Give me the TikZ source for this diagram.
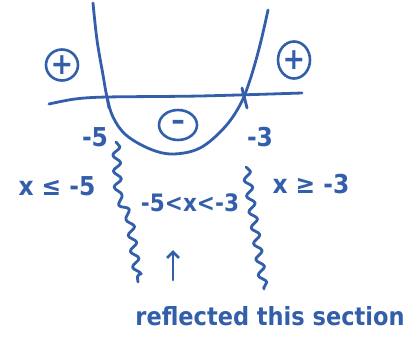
\documentclass[tikz,border=0pt]{standalone}
\usepackage{fontspec}
\setmainfont{DejaVu Sans Condensed}
\usetikzlibrary{shapes.geometric,decorations.pathmorphing,arrows.meta}
\definecolor{handblue}{RGB}{50,94,170}
\tikzset{
  ink/.style={draw=handblue,line width=2.8pt,line cap=round,line join=round},
  wavy/.style={ink,decorate,decoration={snake,segment length=16pt,amplitude=3.8pt}},
  sign/.style={ellipse,draw=handblue,line width=2.6pt,text=handblue,inner sep=0pt,font=\fontsize{30}{30}\selectfont\bfseries},
  lbl/.style={text=handblue,inner sep=0pt,font=\fontsize{26}{28}\selectfont\bfseries},
}
\begin{document}
\begin{tikzpicture}[x=1pt,y=-1pt]
\useasboundingbox (0,0) rectangle (419,337);
% axis
\draw[ink] plot[smooth] coordinates {(49,104) (75,99) (107,97) (200,96) (302,93)};
% parabola
\draw[ink] plot[smooth,tension=0.6] coordinates {(93,3) (97,40) (103,75) (107,97) (113,117) (126,135) (150,149) (173,154) (200,148) (224,128) (240,105) (250,80) (260,45) (268,10)};
\draw[ink] (107,97) -- (109,108);
\draw[ink] (242,88) -- (247,108);
% signs
\node[sign,minimum width=32pt,minimum height=31pt] (pl) at (62,65) {+};
\node[sign,minimum width=32pt,minimum height=37pt] (pr) at (294,60) {+};
\node[sign,minimum width=38pt,minimum height=30pt] (mi) at (178,125) {--};
% roots
\node[lbl] (m5) at (95,137) {-5};
\node[lbl] (m3) at (260,137) {-3};
% wavy separators
\draw[wavy] (116,142) -- (118,190) -- (128,210) -- (138,282);
\draw[wavy] (246,167) -- (264,289);
% intervals
\node[lbl] (left) at (57,186) {x ≤ -5};
\node[lbl,font=\fontsize{24}{26}\selectfont\bfseries] (mid) at (190,203) {-5<x<-3};
\node[lbl] (right) at (311,184) {x ≥ -3};
% arrow and note
\coordinate (at) at (173,280);
\coordinate (ah) at (173,250);
\draw[ink,-{Straight Barb[length=6pt,width=12pt]}] (at) -- (ah);
\node[lbl,font=\fontsize{25}{27}\selectfont\bfseries] (note) at (270,316) {reflected this section};
\end{tikzpicture}
\end{document}
